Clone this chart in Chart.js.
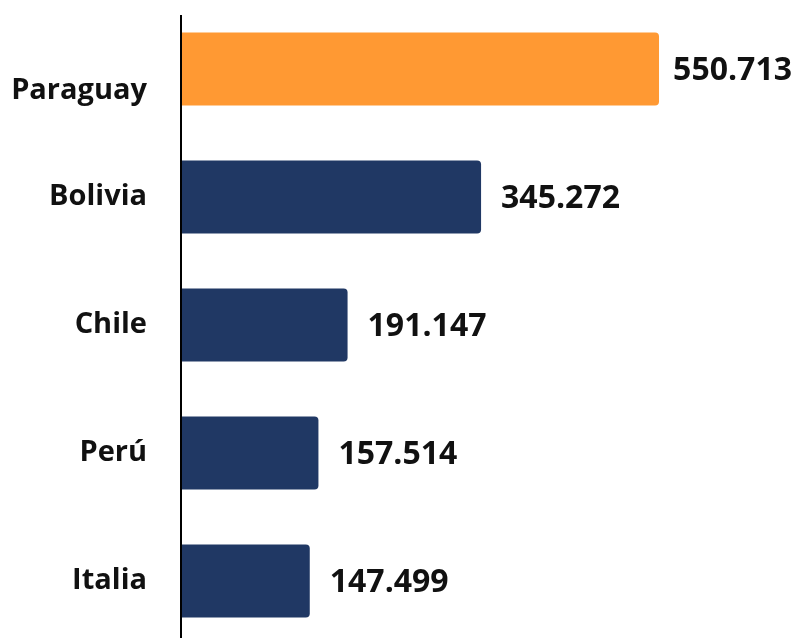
<!DOCTYPE html>
<html>
<head>
<meta charset="utf-8">
<script src="https://cdn.jsdelivr.net/npm/chart.js@4/dist/chart.umd.min.js"></script>
<style>
html,body{margin:0;padding:0;overflow:hidden;background:#fff;}
#wrap{position:relative;width:795px;height:645px;}
</style>
</head>
<body>
<div id="wrap"><canvas id="c"></canvas></div>
<script>
const categories = ["Paraguay", "Bolivia", "Chile", "Perú", "Italia"];
const values = [550713, 345272, 191147, 157514, 147499];
const barColors = ["#FF9933", "#203864", "#203864", "#203864", "#203864"];

const FONT = "'Open Sans', sans-serif";

function fmt(n){
  return String(n).replace(/\B(?=(\d{3})+(?!\d))/g, ".");
}

const valueLabels = {
  id: "valueLabels",
  afterDatasetsDraw(chart){
    const ctx = chart.ctx;
    const meta = chart.getDatasetMeta(0);
    ctx.save();
    ctx.font = "bold 32px " + FONT;
    ctx.fillStyle = "#111";
    ctx.textAlign = "left";
    ctx.textBaseline = "middle";
    meta.data.forEach((bar, i) => {
      const txt = fmt(values[i]);
      const w = ctx.measureText(txt).width;
      const x = Math.min(bar.x + 20, chart.width - w - 3);
      ctx.fillText(txt, x, bar.y + 2);
    });
    ctx.restore();
  }
};

const categoryLabels = {
  id: "categoryLabels",
  afterDraw(chart){
    const ctx = chart.ctx;
    const y = chart.scales.y;
    ctx.save();
    ctx.font = "bold 29px " + FONT;
    ctx.fillStyle = "#111";
    ctx.textAlign = "right";
    ctx.textBaseline = "middle";
    categories.forEach((c, i) => {
      const shift = i === 0 ? 22 : 0;
      ctx.fillText(c, y.right - 35, y.getPixelForValue(i) + shift);
    });
    ctx.restore();
  }
};

const axisLine = {
  id: "axisLine",
  afterDatasetsDraw(chart){
    const ctx = chart.ctx;
    const x = chart.scales.x.getPixelForValue(0) - 1;
    ctx.save();
    ctx.strokeStyle = "#000";
    ctx.lineWidth = 2;
    ctx.beginPath();
    ctx.moveTo(x, 15);
    ctx.lineTo(x, chart.height);
    ctx.stroke();
    ctx.restore();
  }
};

new Chart(document.getElementById("c"), {
  type: "bar",
  data: {
    labels: categories,
    datasets: [{
      data: values,
      backgroundColor: barColors,
      borderRadius: 4,
      barPercentage: 1,
      categoryPercentage: 0.57
    }]
  },
  options: {
    indexAxis: "y",
    responsive: true,
    maintainAspectRatio: false,
    animation: false,
    layout: { padding: { top: 5, bottom: 0, left: 0, right: 0 } },
    plugins: { legend: { display: false }, tooltip: { enabled: false } },
    scales: {
      x: {
        display: false,
        min: 0,
        max: 707700
      },
      y: {
        grid: { display: false, drawTicks: false },
        border: { display: false },
        ticks: { display: false },
        afterFit(scale){
          scale.width = 182;
          scale.paddingTop = 0;
          scale.paddingBottom = 0;
        }
      }
    }
  },
  plugins: [valueLabels, categoryLabels, axisLine]
});
</script>
</body>
</html>
